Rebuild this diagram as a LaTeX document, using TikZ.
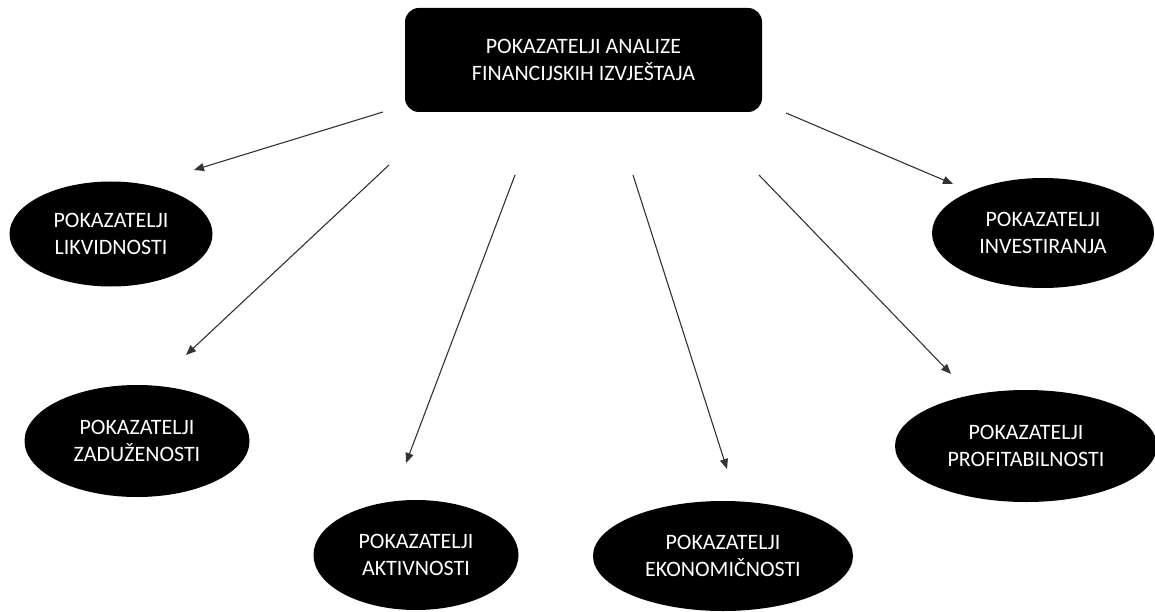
\documentclass[tikz,border=0pt]{standalone}
\usepackage{fontspec}
\setmainfont{Carlito}
\usetikzlibrary{shapes.geometric,arrows.meta}

\tikzset{
  glavni/.style={fill=black,text=white,rounded corners=14pt,align=center,
    minimum width=357pt,minimum height=104pt,inner sep=0pt,
    font=\fontsize{22}{27}\selectfont},
  pokazatelj/.style={ellipse,fill=black,text=white,align=center,inner sep=0pt,
    font=\fontsize{22}{27}\selectfont},
  veza/.style={-{Triangle[length=10pt,width=8pt]},line width=1.1pt,draw=black!80}
}

\begin{document}
\begin{tikzpicture}[x=1pt,y=-1pt]
    \useasboundingbox (0,0) rectangle (1155,612);
    % glavni pravokutnik
    \node[glavni] (analiza) at (583.5,60) {POKAZATELJI ANALIZE\\FINANCIJSKIH IZVJEŠTAJA};
    % elipse
    \node[pokazatelj,minimum width=203pt,minimum height=105pt] (likv) at (111,234) {POKAZATELJI\\LIKVIDNOSTI};
    \node[pokazatelj,minimum width=225pt,minimum height=112pt] (zad) at (137,441) {POKAZATELJI\\ZADUŽENOSTI};
    \node[pokazatelj,minimum width=205pt,minimum height=110pt] (akt) at (416,555) {POKAZATELJI\\AKTIVNOSTI};
    \node[pokazatelj,minimum width=260pt,minimum height=110pt] (ekon) at (723,556) {POKAZATELJI\\EKONOMIČNOSTI};
    \node[pokazatelj,minimum width=262pt,minimum height=112pt] (prof) at (1026,446) {POKAZATELJI\\PROFITABILNOSTI};
    \node[pokazatelj,minimum width=222pt,minimum height=110pt] (inv) at (1043,233) {POKAZATELJI\\INVESTIRANJA};
    % krajevi strelica
    \coordinate (s1) at (383,112);  \coordinate (k1) at (194,170);
    \coordinate (s2) at (389,165);  \coordinate (k2) at (186,355);
    \coordinate (s3) at (515,175);  \coordinate (k3) at (406,463);
    \coordinate (s4) at (633,175);  \coordinate (k4) at (727,469);
    \coordinate (s5) at (759,175);  \coordinate (k5) at (951,374);
    \coordinate (s6) at (786,113);  \coordinate (k6) at (953,184);
    \foreach \i in {1,...,6}
        \draw[veza] (s\i) -- (k\i);
\end{tikzpicture}
\end{document}
